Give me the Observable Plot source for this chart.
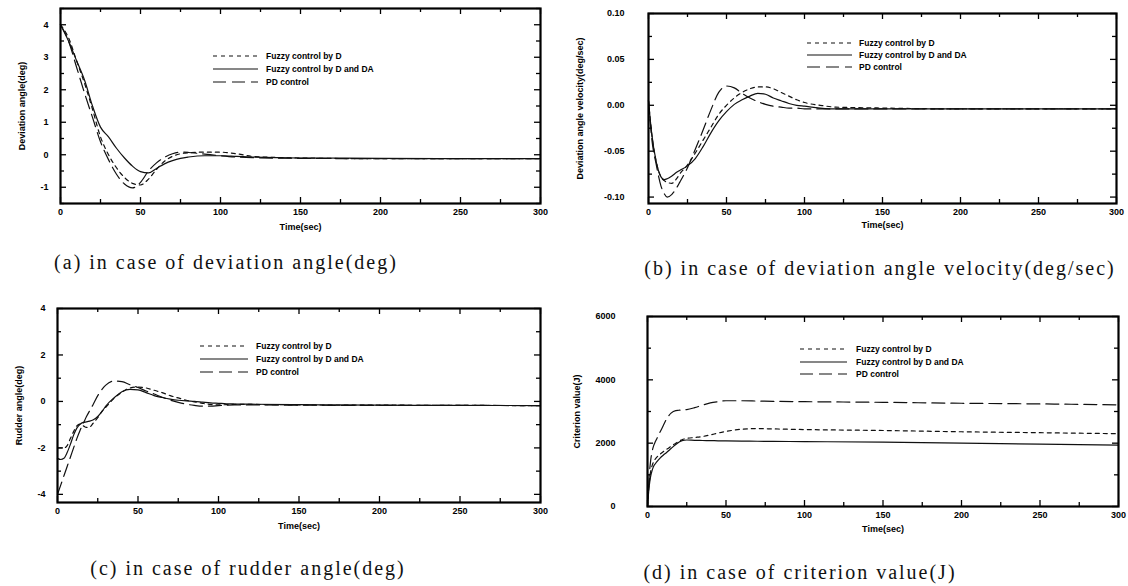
<!DOCTYPE html>
<html><head><meta charset="utf-8">
<script src="https://cdn.jsdelivr.net/npm/d3@7"></script>
<script src="https://cdn.jsdelivr.net/npm/@observablehq/plot@0.6"></script>
<style>
body{margin:0;background:#fff;width:1128px;height:586px;position:relative;overflow:hidden;font-family:"Liberation Sans",Arial,sans-serif}
.panel{position:absolute}
.cap{position:absolute;font-family:"Liberation Serif","Times New Roman",serif;font-size:20px;white-space:nowrap;transform:translate(-50%,-50%);letter-spacing:2px;color:#111}
#legend{position:absolute;left:0;top:0}
</style></head><body>
<script>
// ---------- data ----------
const legendLabels = ["Fuzzy control by D", "Fuzzy control by D and DA", "PD control"];
const xTicks = [0, 50, 100, 150, 200, 250, 300];
const captions = [
  "(a) in case of deviation angle(deg)",
  "(b) in case of deviation angle velocity(deg/sec)",
  "(c) in case of rudder angle(deg)",
  "(d) in case of criterion value(J)"
];

// (a) deviation angle
const tA = [0,5,10,15,20,25,30,35,40,45,50,55,60,65,70,75,80,90,100,110,120,150,200,250,300];
const aFuzzyD   = [4.0,3.6,2.9,2.2,1.4,0.55,0.0,-0.4,-0.7,-0.88,-0.93,-0.75,-0.45,-0.2,-0.05,0.03,0.06,0.08,0.08,0.03,-0.05,-0.1,-0.12,-0.12,-0.12];
const aFuzzyDDA = [4.0,3.5,2.9,2.3,1.5,0.85,0.55,0.2,-0.1,-0.35,-0.52,-0.56,-0.42,-0.28,-0.18,-0.11,-0.07,-0.03,-0.03,-0.05,-0.07,-0.1,-0.11,-0.12,-0.12];
const aPD       = [4.0,3.5,2.7,1.9,1.15,0.4,-0.15,-0.6,-0.9,-1.02,-0.85,-0.5,-0.25,-0.08,0.03,0.08,0.07,0.02,-0.03,-0.07,-0.09,-0.11,-0.12,-0.12,-0.12];

// (b) deviation angle velocity
const tB = [0,2,5,8,10,12,15,18,20,25,30,35,40,45,50,55,60,65,70,75,80,85,90,95,100,110,120,150,200,250,300];
const bFuzzyD   = [0.005,-0.03,-0.062,-0.078,-0.082,-0.084,-0.085,-0.08,-0.075,-0.065,-0.052,-0.038,-0.024,-0.01,0.0,0.008,0.014,0.018,0.02,0.02,0.018,0.014,0.01,0.006,0.003,0.0,-0.002,-0.003,-0.004,-0.004,-0.004];
const bFuzzyDDA = [0.005,-0.03,-0.062,-0.078,-0.081,-0.08,-0.077,-0.073,-0.071,-0.066,-0.058,-0.045,-0.03,-0.017,-0.007,0.001,0.006,0.01,0.013,0.012,0.008,0.005,0.002,0.0,-0.001,-0.003,-0.004,-0.004,-0.004,-0.004,-0.004];
const bPD       = [0.005,-0.035,-0.065,-0.088,-0.096,-0.1,-0.097,-0.09,-0.084,-0.068,-0.048,-0.027,-0.005,0.014,0.021,0.019,0.013,0.008,0.004,0.001,-0.001,-0.002,-0.003,-0.003,-0.004,-0.004,-0.004,-0.004,-0.004,-0.004,-0.004];

// (c) rudder angle
const tC = [0,2,4,6,8,10,12,14,16,18,20,22,25,28,30,35,40,45,50,55,60,65,70,75,80,85,90,95,100,105,110,120,150,200,250,300];
const cFuzzyD   = [-2.0,-2.0,-2.0,-1.9,-1.6,-1.3,-1.05,-0.98,-1.05,-1.12,-1.1,-0.95,-0.7,-0.4,-0.25,0.12,0.4,0.58,0.62,0.58,0.48,0.38,0.25,0.15,0.05,-0.02,-0.08,-0.13,-0.15,-0.14,-0.13,-0.13,-0.15,-0.16,-0.17,-0.18];
const cFuzzyDDA = [-2.45,-2.5,-2.45,-2.2,-1.85,-1.45,-1.15,-0.98,-0.9,-0.88,-0.85,-0.8,-0.65,-0.4,-0.2,0.15,0.42,0.52,0.5,0.38,0.25,0.17,0.1,0.05,0.02,0.0,-0.03,-0.06,-0.08,-0.1,-0.11,-0.12,-0.14,-0.16,-0.17,-0.18];
const cPD       = [-4.0,-3.6,-3.2,-2.8,-2.4,-2.0,-1.6,-1.25,-0.95,-0.65,-0.4,-0.15,0.25,0.55,0.7,0.88,0.85,0.72,0.6,0.45,0.32,0.18,0.06,-0.04,-0.12,-0.17,-0.2,-0.2,-0.18,-0.16,-0.15,-0.15,-0.16,-0.17,-0.17,-0.18];

// (d) criterion value
const tD = [0,1,2,3,4,5,6,8,10,12,15,18,20,22,25,30,35,40,45,50,60,70,80,100,150,200,250,300];
const dFuzzyD   = [0,700,1100,1300,1420,1500,1560,1650,1730,1800,1900,2000,2060,2110,2150,2180,2210,2260,2320,2370,2440,2460,2450,2430,2400,2360,2330,2300];
const dFuzzyDDA = [0,600,950,1150,1280,1350,1420,1530,1620,1700,1830,1960,2030,2080,2100,2090,2085,2080,2075,2070,2065,2060,2055,2050,2030,2000,1970,1940];
const dPD       = [0,900,1450,1750,1930,2050,2150,2350,2550,2750,2950,3030,3040,3050,3060,3120,3200,3270,3310,3340,3340,3330,3320,3310,3290,3260,3240,3210];

// ---------- drawing ----------
const dashes = ["4,4", null, "13,6"];

function panel(cfg) {
  const {t, series, yDomain, yMajor, yMinor, yFmt, width, height, m, ylabel, yLabelOffset, yPad, xLabelOffset} = cfg;
  const H = height - m.top - m.bottom, W = width - m.left - m.right;
  const xMinor = [25, 75, 125, 175, 225, 275];
  const tk = {stroke: "#000", strokeWidth: 1.3};
  const marks = [
    Plot.tickX(xTicks, {x: d => d, insetTop: H - 6, ...tk}),
    Plot.tickX(xMinor, {x: d => d, insetTop: H - 4, ...tk}),
    Plot.tickX(xTicks, {x: d => d, insetBottom: H - 6, ...tk}),
    Plot.tickX(xMinor, {x: d => d, insetBottom: H - 4, ...tk}),
    Plot.tickY(yMajor, {y: d => d, insetRight: W - 6, ...tk}),
    Plot.tickY(yMinor, {y: d => d, insetRight: W - 4, ...tk}),
    Plot.tickY(yMajor, {y: d => d, insetLeft: W - 6, ...tk}),
    Plot.tickY(yMinor, {y: d => d, insetLeft: W - 4, ...tk}),
    Plot.axisX({ticks: xTicks, tickSize: 0, tickPadding: 5, tickFormat: d => String(d), fontWeight: "bold",
      label: "Time(sec)", labelAnchor: "center", labelOffset: xLabelOffset, labelArrow: "none"}),
    Plot.axisY({ticks: yMajor, tickSize: 0, tickPadding: yPad, tickFormat: yFmt, fontWeight: "bold",
      label: ylabel, labelAnchor: "center", labelOffset: yLabelOffset, labelArrow: "none"})
  ];
  series.forEach((vals, i) => {
    const data = t.map((x, j) => ({x, y: vals[j]}));
    marks.push(Plot.line(data, {x: "x", y: "y", stroke: "#111", strokeWidth: 1.2, curve: "monotone-x",
      strokeDasharray: dashes[i] || undefined}));
  });
  marks.push(Plot.frame({stroke: "#000", strokeWidth: 2.2}));
  const svg = Plot.plot({
    width, height, marginTop: m.top, marginRight: m.right, marginBottom: m.bottom, marginLeft: m.left,
    x: {domain: [0, 300]}, y: {domain: yDomain},
    style: {fontFamily: "'Liberation Sans', Arial, sans-serif", fontSize: "9px", color: "#000", background: "transparent"},
    marks
  });
  const div = document.createElement("div");
  div.className = "panel";
  div.style.left = cfg.left + "px";
  div.style.top = cfg.top + "px";
  div.appendChild(svg);
  document.body.appendChild(div);
}

panel({left: 0, top: 0, width: 550, height: 240, m: {top: 8, right: 10, bottom: 37, left: 60},
  t: tA, series: [aFuzzyD, aFuzzyDDA, aPD], yDomain: [-1.5, 4.5],
  yMajor: [-1,0,1,2,3,4], yMinor: [-1.5,-0.5,0.5,1.5,2.5,3.5,4.5], yFmt: d => String(d),
  ylabel: "Deviation angle(deg)", yLabelOffset: 42, yPad: 12, xLabelOffset: 26});

panel({left: 570, top: 0, width: 558, height: 240, m: {top: 13, right: 12, bottom: 37, left: 78},
  t: tB, series: [bFuzzyD, bFuzzyDDA, bPD], yDomain: [-0.107, 0.10],
  yMajor: [-0.10,-0.05,0,0.05,0.10], yMinor: [-0.075,-0.025,0.025,0.075], yFmt: d => d.toFixed(2),
  ylabel: "Deviation angle velocity(deg/sec)", yLabelOffset: 72, yPad: 24, xLabelOffset: 24});

panel({left: 0, top: 290, width: 550, height: 250, m: {top: 18, right: 10, bottom: 38, left: 57},
  t: tC, series: [cFuzzyD, cFuzzyDDA, cPD], yDomain: [-4.35, 4],
  yMajor: [-4,-2,0,2,4], yMinor: [-3,-1,1,3], yFmt: d => String(d),
  ylabel: "Rudder angle(deg)", yLabelOffset: 42, yPad: 12, xLabelOffset: 26});

panel({left: 570, top: 290, width: 558, height: 252, m: {top: 26, right: 10, bottom: 36, left: 77},
  t: tD, series: [dFuzzyD, dFuzzyDDA, dPD], yDomain: [0, 6000],
  yMajor: [0,2000,4000,6000], yMinor: [1000,3000,5000], yFmt: d => String(d),
  ylabel: "Criterion value(J)", yLabelOffset: 74, yPad: 32, xLabelOffset: 25});

// legends (inside each frame)
const legendPos = [
  {x0: 213, x1: 258, tx: 266, ys: [56, 69, 82]},
  {x0: 807, x1: 852, tx: 859, ys: [43, 55, 67]},
  {x0: 200, x1: 248, tx: 256, ys: [346, 359, 372]},
  {x0: 800, x1: 847, tx: 856, ys: [349, 362, 374]}
];
const lg = d3.select("body").append("svg").attr("id", "legend").attr("width", 1128).attr("height", 586);
legendPos.forEach(p => {
  legendLabels.forEach((lab, i) => {
    lg.append("line").attr("x1", p.x0).attr("x2", p.x1).attr("y1", p.ys[i]).attr("y2", p.ys[i])
      .attr("stroke", "#111").attr("stroke-width", 1.2).attr("stroke-dasharray", dashes[i]);
    lg.append("text").attr("x", p.tx).attr("y", p.ys[i] + 3).text(lab)
      .attr("font-family", "'Liberation Sans', Arial, sans-serif").attr("font-size", 8.5).attr("font-weight", "bold");
  });
});

// captions
const capPos = [[226, 262], [880, 268], [248, 568], [800, 572]];
captions.forEach((c, i) => {
  const d = document.createElement("div");
  d.className = "cap";
  d.style.left = capPos[i][0] + "px";
  d.style.top = capPos[i][1] + "px";
  d.textContent = c;
  document.body.appendChild(d);
});
</script>
</body></html>
